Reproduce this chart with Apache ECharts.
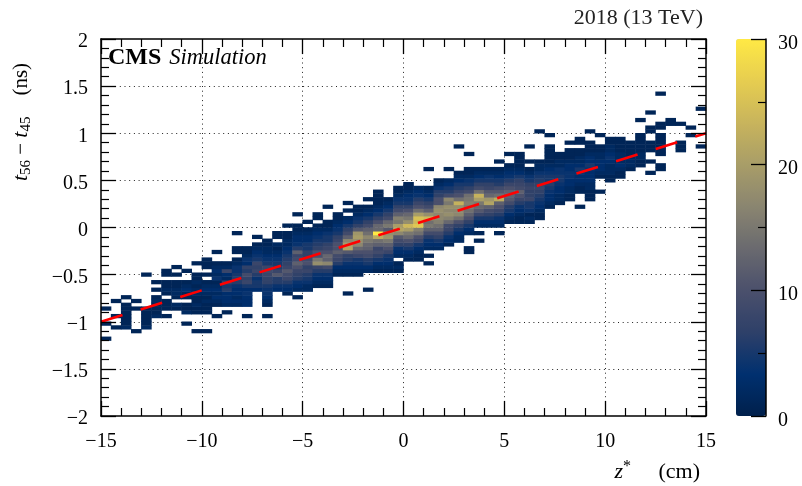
<!DOCTYPE html>
<html><head><meta charset="utf-8">
<style>html,body{margin:0;padding:0;background:#fff}#c{width:802px;height:486px}</style>
<script src="https://cdn.jsdelivr.net/npm/echarts@6/dist/echarts.min.js"></script>
</head><body><div id="c"></div>
<script>
// Each column: list of runs [firstRow, count, count, ...]; rows are 0.04 ns wide from -2, columns 0.5 cm wide from -15
const histColumns = [
/*0*/[[20,1],[24,1],[28,1]],
/*1*/[[23,1],[26,1],[30,1]],
/*2*/[[23,2,1,1,1,1],[28,1,1],[31,1]],
/*3*/[[22,1],[28,1],[30,1]],
/*4*/[[23,2,1,1,1,1,1],[37,1]],
/*5*/[[26,2,1,1,1,2,1],[33,1],[35,1]],
/*6*/[[26,1],[28,1,1,1],[32,1,2,1,1],[37,1,1]],
/*7*/[[28,1,2],[31,1,2,2,1,1],[37,1],[39,1]],
/*8*/[[24,1],[27,2,1,1],[31,1,1,3,2,1],[38,1]],
/*9*/[[22,1],[27,1,1,2,1,1,2,2,1,2,1],[37,1],[40,1]],
/*10*/[[22,1],[27,1,1,1,2,1,2,3,2,1],[37,1],[39,1,1,1]],
/*11*/[[26,1],[29,1,2,3,2,3,2,1,4,2,3,2,1],[43,1]],
/*12*/[[27,1],[29,2,3,3,3,6,5,7,2,3,8,2,1]],
/*13*/[[29,2,3,2,3,3,4,6,6,5,4,4,2,1],[43,1,1],[48,1]],
/*14*/[[26,1],[29,3,3,3,4,3,5,8,7,9,6,7,3,4,2,1,1]],
/*15*/[[33,3,5,5,4,6,8,7,8,5,4,3,2,1],[47,1]],
/*16*/[[26,1],[29,1,2,3,4,4,5,7,7,8,9,8,5,4,3,2,2,1,1]],
/*17*/[[33,3,4,6,6,11,8,6,5,4,3,2,1,2],[47,1,1]],
/*18*/[[32,1,3,4,6,8,9,11,8,7,6,5,4,3,2,2,1,1],[50,1]],
/*19*/[[31,1],[33,2,3,4,6,7,8,10,12,9,8,12,6,4,3,3,2,1,1],[53,1]],
/*20*/[[33,2,2,4,5,6,8,7,10,9,7,7,5,5,3,3,2,1],[51,1]],
/*21*/[[34,1,2,3,4,6,8,18,15,10,10,7,6,5,4,3,2,1],[52,1,1]],
/*22*/[[34,1,2,3,4,6,9,17,12,13,10,8,7,5,5,4,2,1,1],[55,1]],
/*23*/[[37,1,2,3,6,8,9,12,10,10,8,7,5,4,3,2,1,1]],
/*24*/[[32,1],[37,1,2,3,4,6,7,11,21,20,17,12,9,7,5,3,2],[54,1],[56,1]],
/*25*/[[37,1,2,3,4,5,8,10,13,17,18,20,19,11,7,5,4,2,1],[55,1]],
/*26*/[[33,1],[38,2,3,5,6,9,10,12,13,15,17,14,12,9,7,5,3,2,1],[57,1]],
/*27*/[[38,1,2,3,5,7,9,8,12,14,22,30,13,13,10,7,5,3,2,1,1,1,1]],
/*28*/[[38,1,2,3,4,5,8,10,12,15,19,18,11,15,13,9,7,5,3,2,1]],
/*29*/[[38,1,2,1],[42,2,3,4,7,9,11,17,21,20,15,16,12,9,7,5,4,2,1,1]],
/*30*/[[41,1,2,3,5,7,10,13,15,20,24,18,15,13,10,7,5,4,3,2,1,1]],
/*31*/[[41,1,1,2,3,5,8,10,14,16,26,24,25,20,14,10,8,6,4,3,2]],
/*32*/[[40,1],[42,1],[44,2,3,4,6,9,12,15,14,24,18,12,9,7,5,3,2,1],[65,1]],
/*33*/[[44,2,3,5,7,9,12,14,16,17,17,18,17,10,10,7,6,4,2,1]],
/*34*/[[45,1,3,4,6,8,9,13,16,18,17,18,15,17,9,6,5,3,2],[65,1]],
/*35*/[[46,2,2,3,5,7,10,14,17,17,18,23,14,10,8,6,5,3,2,1],[71,1]],
/*36*/[[43,1,1],[48,2,3,5,7,10,12,14,15,16,15,14,9,7,5,4,2,1,1],[69,1]],
/*37*/[[46,1],[48,1],[50,2,3,5,8,11,13,15,20,23,14,9,7,5,3,2,1]],
/*38*/[[50,2,3,5,7,9,12,21,19,13,11,8,7,5,4,2,1]],
/*39*/[[48,1],[50,2,3,4,6,8,10,12,22,14,11,9,6,5,3,2,1],[67,1]],
/*40*/[[51,1,2,3,5,6,9,11,12,12,10,8,6,4,3,2,1],[69,1]],
/*41*/[[51,1,1,2,3,4,6,8,10,12,9,8,7,5,3,2,1],[67,1,1,1]],
/*42*/[[51,1,2,1,4,5,5,8,7,7,8,7,5,4,2,1],[67,1],[71,1]],
/*43*/[[52,1,1,2,3,4,5,6,7,8,7,6,5,4,2,2,1],[75,1]],
/*44*/[[55,1,2,3,3,4,5,6,5,5,4,3,2,1,1,1,1,1],[74,1]],
/*45*/[[56,1,2,2,3,3,4,5,5,4,4,2,2,1,1]],
/*46*/[[57,1,1,2,2,3,3,4,4,3,3,2,1,1,1],[72,1]],
/*47*/[[55,1],[59,1,1,2,3,3,4,5,3,2,2,1,1],[72,1,1]],
/*48*/[[57,1,1,1,2,2,3,3,3,4,5,3,3,2,1,1,1],[75,1]],
/*49*/[[59,1],[63,1,2,3,3,3,2,2,1,1],[74,1]],
/*50*/[[62,1,1,2,2,2,3,4,3,2,2,1,1]],
/*51*/[[63,1,1,2,3,2,2,2,1,1,1,1]],
/*52*/[[65,1,2,2,2,1,1,1,1]],
/*53*/[[66,1,1,2,2,1,1,1,1,1],[78,1]],
/*54*/[[64,1],[67,1],[70,1,1,1],[75,1,1],[80,1]],
/*55*/[[65,1,1],[69,1,1,1,1,1,1],[76,1,1],[85,1]],
/*56*/[[77,1,1]],
/*57*/[[70,1,1,1],[77,1]],
/*58*/[[74,1],[76,1]],
/*59*/[[71,1],[81,1]]
];
const fitX = [-15, 15];
const fitY = [-1, 1];
const xTickStep = 5, yTickStep = 0.5, zTickStep = 10;
const xRange = [-15, 15], yRange = [-2, 2], zRange = [0, 30];
const paletteStops = ['#00204c','#00306f','#2e4069','#4b506c','#6a6a6f','#8a8570','#a89d68','#c8b45c','#e6cd50','#ffe945'];

const cells = [];
histColumns.forEach((runs, col) => runs.forEach(run => {
  run.slice(1).forEach((count, k) => { if (count > 0) cells.push([col, run[0] + k, count]); });
}));
const xBins = histColumns.map((_, i) => String(i));
const yBins = Array.from({length: 100}, (_, i) => String(i));

const FONT = '"Liberation Serif"';
const INK = '#000';
const minus = v => String(v).replace('-', '\u2212');
const PLOT = {left: 101, top: 39, width: 605, height: 377};

const tickAxis = (extra) => Object.assign({
  type: 'value', z: 5, splitLine: {show: false},
  axisLine: {show: true, onZero: false, lineStyle: {color: INK, width: 1.5}},
  axisTick: {show: true, inside: true, length: 15, lineStyle: {color: INK, width: 1.3}},
  minorTick: {show: true, splitNumber: 5, length: 8, lineStyle: {color: INK, width: 1.2}},
  axisLabel: {show: false}
}, extra);
const labels = (margin, extra) => Object.assign({show: true, margin, color: INK, fontFamily: FONT, fontSize: 20, formatter: minus, hideOverlap: false, showMinLabel: true, showMaxLabel: true}, extra);
const dotted = {show: true, showMinLine: false, showMaxLine: false, lineStyle: {color: '#222', width: 1, type: [1, 3.7]}};

const option = {
  animation: false, backgroundColor: '#fff',
  textStyle: {fontFamily: FONT},
  grid: [
    Object.assign({}, PLOT), Object.assign({}, PLOT), Object.assign({}, PLOT),
    {left: 736, top: 39, width: 30, height: 377}
  ],
  xAxis: [
    {gridIndex: 0, type: 'value', min: xRange[0], max: xRange[1], interval: xTickStep, axisLine: {show: false}, axisTick: {show: false}, axisLabel: {show: false}, splitLine: dotted, z: 0},
    {gridIndex: 1, type: 'category', data: xBins, show: false},
    tickAxis({gridIndex: 2, position: 'bottom', min: xRange[0], max: xRange[1], interval: xTickStep, axisLabel: labels(16)}),
    tickAxis({gridIndex: 2, position: 'top', min: xRange[0], max: xRange[1], interval: xTickStep}),
    {gridIndex: 3, type: 'value', min: 0, max: 1, show: false}
  ],
  yAxis: [
    {gridIndex: 0, type: 'value', min: yRange[0], max: yRange[1], interval: yTickStep, axisLine: {show: false}, axisTick: {show: false}, axisLabel: {show: false}, splitLine: dotted, z: 0},
    {gridIndex: 1, type: 'category', data: yBins, show: false},
    tickAxis({gridIndex: 2, position: 'left', min: yRange[0], max: yRange[1], interval: yTickStep, axisLabel: labels(13, {verticalAlign: 'top', lineHeight: 6})}),
    tickAxis({gridIndex: 2, position: 'right', min: yRange[0], max: yRange[1], interval: yTickStep}),
    tickAxis({gridIndex: 3, position: 'right', min: zRange[0], max: zRange[1], interval: zTickStep,
      minorTick: {show: true, splitNumber: 2, length: 8, lineStyle: {color: INK, width: 1.2}},
      axisLabel: labels(12, {verticalAlign: 'top', lineHeight: 9})})
  ],
  visualMap: {
    type: 'continuous', seriesIndex: 0, min: zRange[0], max: zRange[1], calculable: false, realtime: false,
    left: 736, top: 39, itemWidth: 30, itemHeight: 377, text: null, showLabel: false, padding: 0,
    inRange: {color: paletteStops}, hoverLink: false, z: 1
  },
  series: [
    {type: 'heatmap', xAxisIndex: 1, yAxisIndex: 1, data: cells, z: 2, progressive: 0, emphasis: {disabled: true}, itemStyle: {borderWidth: 0}},
    {type: 'line', xAxisIndex: 2, yAxisIndex: 2, data: fitX.map((x, i) => [x, fitY[i]]), symbol: 'none', z: 4,
      lineStyle: {color: '#ff0000', width: 2.6, type: [22.5, 19], cap: 'butt'}}
  ],
  graphic: [
    {type: 'text', z: 10, x: 703, y: 18, style: {text: '2018 (13 TeV)', font: '22px ' + FONT, fill: '#222', textAlign: 'right', textVerticalAlign: 'middle'}},
    {type: 'text', z: 10, x: 108, y: 58, style: {text: '{b|CMS}{g| }{i|Simulation}', textVerticalAlign: 'middle', rich: {
      b: {fontFamily: FONT, fontWeight: 'bold', fontSize: 24, color: '#000'},
      g: {fontFamily: FONT, fontSize: 18, width: 8},
      i: {fontFamily: FONT, fontStyle: 'italic', fontSize: 22.5, color: '#222'}}}},
    {type: 'text', z: 10, x: 700, y: 472, style: {text: '{i|z}{s|*}{r|     (cm)}', textAlign: 'right', textVerticalAlign: 'middle', rich: {
      i: {fontFamily: FONT, fontStyle: 'italic', fontSize: 22, lineHeight: 26, verticalAlign: 'middle', color: '#222'},
      s: {fontFamily: FONT, fontSize: 16, lineHeight: 26, verticalAlign: 'top', color: '#222'},
      r: {fontFamily: FONT, fontSize: 22, lineHeight: 26, verticalAlign: 'middle', color: '#222'}}}},
    {type: 'text', z: 10, x: 21, y: 122, rotation: Math.PI / 2, style: {text: '{i|t}{s|56}{r| \u2212 }{i|t}{s|45}{r|    (ns)}', textAlign: 'center', textVerticalAlign: 'middle', rich: {
      i: {fontFamily: FONT, fontStyle: 'italic', fontSize: 22, lineHeight: 26, verticalAlign: 'middle', color: '#222'},
      s: {fontFamily: FONT, fontSize: 15, lineHeight: 26, verticalAlign: 'bottom', color: '#222'},
      r: {fontFamily: FONT, fontSize: 21, lineHeight: 26, verticalAlign: 'middle', color: '#222'}}}}
  ]
};
echarts.init(document.getElementById('c'), null, {renderer: 'canvas'}).setOption(option);
</script></body></html>
